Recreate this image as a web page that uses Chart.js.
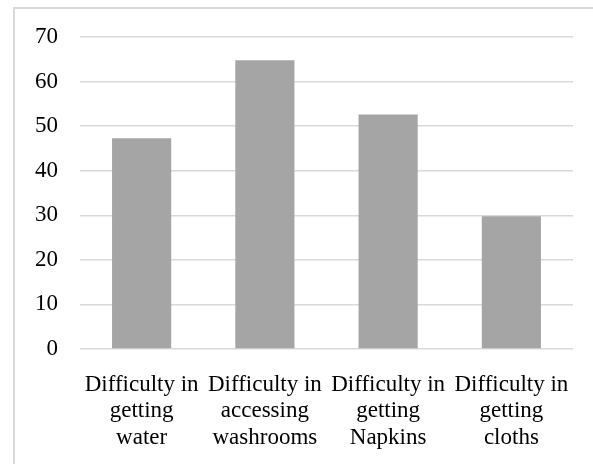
<!DOCTYPE html>
<html>
<head>
<meta charset="utf-8">
<script src="https://cdn.jsdelivr.net/npm/chart.js@4"></script>
<style>
  html, body { margin: 0; padding: 0; background: #fff; overflow: hidden; }
  #frame { position: absolute; left: 13px; top: 7px; width: 600px; height: 480px; border: 2px solid #d9d9d9; box-sizing: border-box; }
  #wrap { position: absolute; left: 0; top: 0; width: 593px; height: 464px; }
</style>
</head>
<body>
<div id="frame"></div>
<div id="wrap"><canvas id="myChart" width="593" height="464"></canvas></div>
<script>
var categories = [
    ['Difficulty in', 'getting', 'water'],
    ['Difficulty in', 'accessing', 'washrooms'],
    ['Difficulty in', 'getting', 'Napkins'],
    ['Difficulty in', 'getting', 'cloths']
];
var values = [47.3, 64.8, 52.6, 29.8];
var yMin = 0, yMax = 70, yStep = 10;

var ctx = document.getElementById('myChart').getContext('2d');
var myChart = new Chart(ctx, {
    type: 'bar',
    data: {
        labels: categories,
        datasets: [{
            label: 'Series 1',
            data: values,
            backgroundColor: '#a5a5a5',
            borderWidth: 0,
            barPercentage: 0.48,
            categoryPercentage: 1.0
        }]
    },
    options: {
        responsive: false,
        animation: false,
        layout: { padding: { top: 37, right: 20, bottom: 0, left: 0 } },
        plugins: { legend: { display: false }, tooltip: { enabled: false } },
        scales: {
            x: {
                grid: { display: false },
                border: { display: false },
                ticks: {
                    color: '#000',
                    font: { family: 'Liberation Serif', size: 23, lineHeight: 1.17 },
                    padding: 14,
                    maxRotation: 0,
                    autoSkip: false
                },
                afterFit: function (axis) { axis.height = 115; }
            },
            y: {
                min: yMin,
                max: yMax,
                ticks: {
                    stepSize: yStep,
                    color: '#000',
                    font: { family: 'Liberation Serif', size: 23 },
                    padding: 22
                },
                grid: { color: '#d9d9d9', lineWidth: 1.5, drawTicks: false },
                border: { display: false },
                afterFit: function (axis) { axis.width = 80; }
            }
        }
    }
});
</script>
</body>
</html>
